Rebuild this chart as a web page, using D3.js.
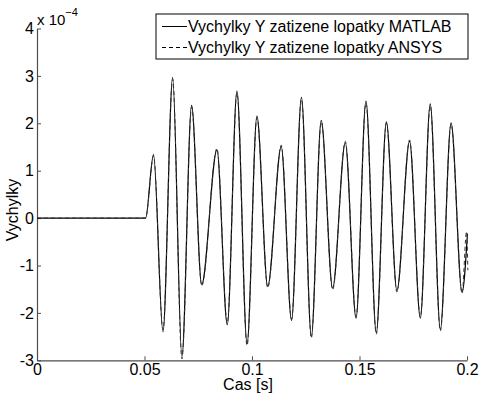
<!DOCTYPE html>
<html>
<head>
<meta charset="utf-8">
<script src="https://cdn.jsdelivr.net/npm/d3@7"></script>
<style>
  html, body { margin: 0; padding: 0; background: #fff; }
  svg { display: block; font-family: "Liberation Sans", Arial, Helvetica, sans-serif; }
</style>
</head>
<body>
<script>
// ---- data (values in units of 1e-4) ----
const xTicks = [0, 0.05, 0.1, 0.15, 0.2];
const xTickLabels = ["0", "0.05", "0.1", "0.15", "0.2"];
const yTicks = [-3, -2, -1, 0, 1, 2, 3, 4];
const yTickLabels = ["-3", "-2", "-1", "0", "1", "2", "3", "4"];
const seriesNames = ["Vychylky Y zatizene lopatky MATLAB", "Vychylky Y zatizene lopatky ANSYS"];

const timeMatlab = [0, 0.0505, 0.0542, 0.0586, 0.0631, 0.0674, 0.0719, 0.0766, 0.0837, 0.0885,
  0.0930, 0.0977, 0.1023, 0.1073, 0.1136, 0.1184, 0.1230, 0.1276, 0.1322, 0.1375,
  0.1434, 0.1484, 0.1530, 0.1578, 0.1625, 0.1674, 0.1733, 0.1783, 0.1829, 0.1876,
  0.1926, 0.1977, 0.2002];
const valueMatlab = [0, 0, 1.34, -2.40, 2.97, -2.92, 2.38, -1.40, 1.44, -2.25,
  2.68, -2.65, 2.15, -1.44, 1.51, -2.16, 2.55, -2.50, 2.06, -1.48,
  1.59, -2.11, 2.47, -2.42, 2.03, -1.53, 1.62, -2.11, 2.41, -2.35,
  2.01, -1.56, -0.33];

const timeAnsys = [0, 0.0505, 0.0542, 0.0586, 0.0631, 0.0674, 0.0719, 0.0766, 0.0837, 0.0885,
  0.0930, 0.0977, 0.1023, 0.1073, 0.1136, 0.1184, 0.1230, 0.1276, 0.1322, 0.1375,
  0.1434, 0.1484, 0.1530, 0.1578, 0.1625, 0.1674, 0.1733, 0.1783, 0.1829, 0.1876,
  0.1926, 0.1977, 0.1998, 0.2004];
const valueAnsys = [0, 0, 1.31, -2.36, 2.93, -2.97, 2.34, -1.43, 1.47, -2.21,
  2.64, -2.69, 2.12, -1.47, 1.54, -2.13, 2.51, -2.53, 2.03, -1.51,
  1.62, -2.08, 2.43, -2.45, 2.00, -1.56, 1.65, -2.08, 2.37, -2.38,
  1.98, -1.59, -0.28, -1.10];

// ---- layout ----
const W = 479, H = 398;
const plot = { left: 37, right: 467, top: 28.5, bottom: 360.3 };

const svg = d3.select("body").append("svg").attr("width", W).attr("height", H);

const x = d3.scaleLinear().domain([0, 0.2]).range([plot.left, plot.right]);
const y = d3.scaleLinear().domain([-3, 4]).range([plot.bottom, plot.top]);

const axisColor = "#4d4d4d";
const fs = 16;

// x axis
const gx = svg.append("g").attr("transform", `translate(0,${plot.bottom})`)
  .call(d3.axisBottom(x).tickValues(xTicks).tickFormat((d, i) => xTickLabels[i])
    .tickSizeInner(-4).tickSizeOuter(0).tickPadding(3));
gx.select(".domain").attr("stroke", axisColor).attr("stroke-width", 1.2);
gx.selectAll(".tick line").attr("stroke", axisColor);
gx.selectAll(".tick text").attr("fill", "#000").attr("font-size", fs).attr("font-family", null);

// y axis
const gy = svg.append("g").attr("transform", `translate(${plot.left},0)`)
  .call(d3.axisLeft(y).tickValues(yTicks).tickFormat((d, i) => yTickLabels[i])
    .tickSizeInner(-4).tickSizeOuter(0).tickPadding(3));
gy.select(".domain").attr("stroke", axisColor).attr("stroke-width", 1.2);
gy.selectAll(".tick line").attr("stroke", axisColor);
gy.selectAll(".tick text").attr("fill", "#000").attr("font-size", fs).attr("font-family", null);

// exponent label
const ex = svg.append("text").attr("x", plot.left).attr("y", 25).attr("font-size", 15).attr("fill", "#000");
ex.append("tspan").text("x 10");
ex.append("tspan").attr("dy", -9).attr("font-size", 11).text("\u22124");

// axis titles
svg.append("text").attr("x", 248).attr("y", 390)
  .attr("text-anchor", "middle").attr("font-size", fs).attr("fill", "#000").text("Cas [s]");
svg.append("text").attr("transform", `translate(18,${210}) rotate(-90)`)
  .attr("text-anchor", "middle").attr("font-size", fs).attr("fill", "#000").text("Vychylky");

// lines
const line = d3.line().x(d => x(d[0])).y(d => y(d[1])).curve(d3.curveMonotoneX);
const dataMatlab = timeMatlab.map((t, i) => [t, valueMatlab[i]]);
const dataAnsys = timeAnsys.map((t, i) => [t, valueAnsys[i]]);

svg.append("path").datum(dataMatlab).attr("d", line)
  .attr("fill", "none").attr("stroke", "#000").attr("stroke-width", 1.2);
svg.append("path").datum(dataAnsys).attr("d", line)
  .attr("fill", "none").attr("stroke", "#333").attr("stroke-width", 1)
  .attr("stroke-dasharray", "4,3");

// legend
const lg = svg.append("g");
lg.append("rect").attr("x", 156).attr("y", 14).attr("width", 312).attr("height", 45)
  .attr("fill", "#fff").attr("stroke", "#000").attr("stroke-width", 1);
const rows = [26.5, 47.5];
lg.append("line").attr("x1", 162).attr("x2", 187).attr("y1", rows[0]).attr("y2", rows[0])
  .attr("stroke", "#000").attr("stroke-width", 1);
lg.append("line").attr("x1", 162).attr("x2", 187).attr("y1", rows[1]).attr("y2", rows[1])
  .attr("stroke", "#000").attr("stroke-width", 1).attr("stroke-dasharray", "4,3");
seriesNames.forEach((n, i) => {
  lg.append("text").attr("x", 188).attr("y", rows[i]).attr("dy", "0.36em")
    .attr("font-size", fs).attr("fill", "#000").text(n);
});
</script>
</body>
</html>
